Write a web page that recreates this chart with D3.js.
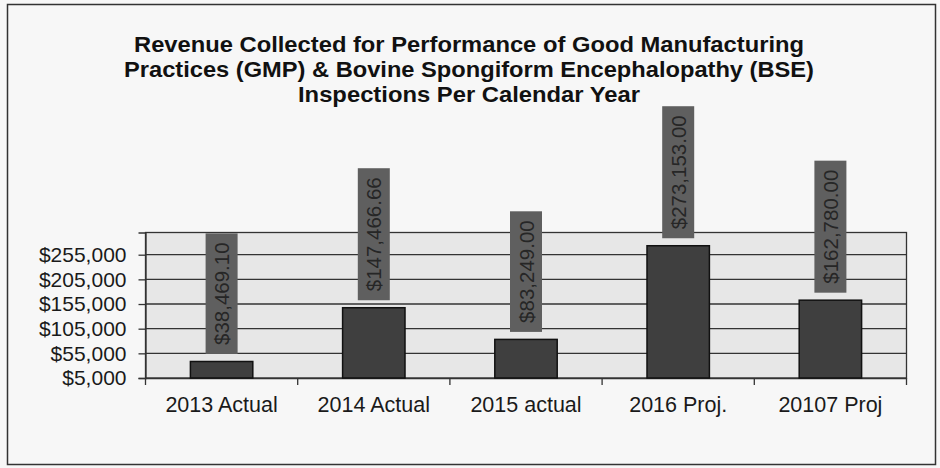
<!DOCTYPE html>
<html><head><meta charset="utf-8">
<script src="https://cdn.jsdelivr.net/npm/d3@7"></script>
<style>html,body{margin:0;padding:0;background:#f7f7f7;}svg{display:block;}</style>
</head><body><svg id="c" width="940" height="468"></svg>
<script>
const categories = ["2013 Actual", "2014 Actual", "2015 actual", "2016 Proj.", "20107 Proj"];
const values = [38469.10, 147466.66, 83249.00, 273153.00, 162780.00];
const valueLabels = ["$38,469.10", "$147,466.66", "$83,249.00", "$273,153.00", "$162,780.00"];
const tickValues = [5000, 55000, 105000, 155000, 205000, 255000];
const titleLines = ["Revenue Collected for Performance of Good Manufacturing",
  "Practices (GMP) & Bovine Spongiform Encephalopathy (BSE)",
  "Inspections Per Calendar Year"];

const svg = d3.select("#c");
const font = "'Liberation Sans', Arial, sans-serif";
const L = 145.5, R = 906.5, T = 232.5, B = 378;

svg.append("rect").attr("x", 7.5).attr("y", 4.5).attr("width", 928).attr("height", 460)
  .attr("fill", "#f7f7f7").attr("stroke", "#333").attr("stroke-width", 1.5);

const x = d3.scaleBand().domain(categories).range([L, R]).padding(0);
const y = d3.scaleLinear().domain([5000, 300000]).range([B, T]);

// plot area
svg.append("rect").attr("x", L).attr("y", T).attr("width", R - L).attr("height", B - T)
  .attr("fill", "#e7e7e7").attr("stroke", "#333").attr("stroke-width", 1.3);

// gridlines
svg.append("g").selectAll("line").data(tickValues.slice(1)).join("line")
  .attr("x1", L).attr("x2", R).attr("y1", d => y(d)).attr("y2", d => y(d))
  .attr("stroke", "#333").attr("stroke-width", 1.3);

// y axis
const yAxis = d3.axisLeft(y).tickValues(tickValues).tickSize(7).tickPadding(12)
  .tickFormat(d => "$" + d3.format(",")(d));
const gy = svg.append("g").attr("transform", `translate(${L},0)`).call(yAxis);
gy.select(".domain").attr("stroke", "#333").attr("stroke-width", 1.3);
gy.selectAll(".tick line").attr("stroke", "#333").attr("stroke-width", 1.3);
gy.selectAll(".tick text").attr("font-family", font).attr("font-size", 21).attr("fill", "#1a1a1a");

// x axis
const xAxis = d3.axisBottom(x).tickSize(0).tickPadding(19);
const gx = svg.append("g").attr("transform", `translate(0,${B})`).call(xAxis);
gx.select(".domain").attr("stroke", "#333").attr("stroke-width", 1.3);
gx.selectAll(".tick text").attr("font-family", font).attr("font-size", 21.5).attr("fill", "#1a1a1a");
// x tick marks at category boundaries
const bounds = categories.map(c => x(c)).concat([R]);
svg.append("g").selectAll("line").data(bounds).join("line")
  .attr("x1", d => d).attr("x2", d => d).attr("y1", B).attr("y2", B + 7)
  .attr("stroke", "#333").attr("stroke-width", 1.3);

// bars
const bw = x.bandwidth() * 0.41;
svg.append("g").selectAll("rect").data(values).join("rect")
  .attr("x", (d, i) => x(categories[i]) + x.bandwidth() / 2 - bw / 2)
  .attr("y", d => y(d)).attr("width", bw).attr("height", d => B - y(d))
  .attr("fill", "#3f3f3f").attr("stroke", "#111").attr("stroke-width", 1.5);

// data labels (rotated, boxed)
const lg = svg.append("g");
values.forEach((v, i) => {
  const cx = x(categories[i]) + x.bandwidth() / 2;
  const bottom = y(v) - 7.5;
  const g = lg.append("g");
  const t = g.append("text").attr("font-family", font).attr("font-size", 20.5)
    .attr("fill", "#262626").attr("text-anchor", "start").attr("dominant-baseline", "central")
    .attr("transform", `translate(${cx},${bottom - 9}) rotate(-90)`).text(valueLabels[i]);
  const len = t.node().getComputedTextLength();
  g.insert("rect", "text").attr("x", cx - 16).attr("y", bottom - len - 18)
    .attr("width", 32).attr("height", len + 18).attr("fill", "#5f5f5f");
});

// title
const titleWidths = [670, 690, 342];
svg.append("g").selectAll("text").data(titleLines).join("text")
  .attr("x", 469).attr("y", (d, i) => 52 + i * 25).attr("text-anchor", "middle")
  .attr("font-family", font).attr("font-weight", "bold").attr("font-size", 21.5)
  .attr("textLength", (d, i) => titleWidths[i]).attr("lengthAdjust", "spacingAndGlyphs")
  .attr("fill", "#111").text(d => d);
</script></body></html>
